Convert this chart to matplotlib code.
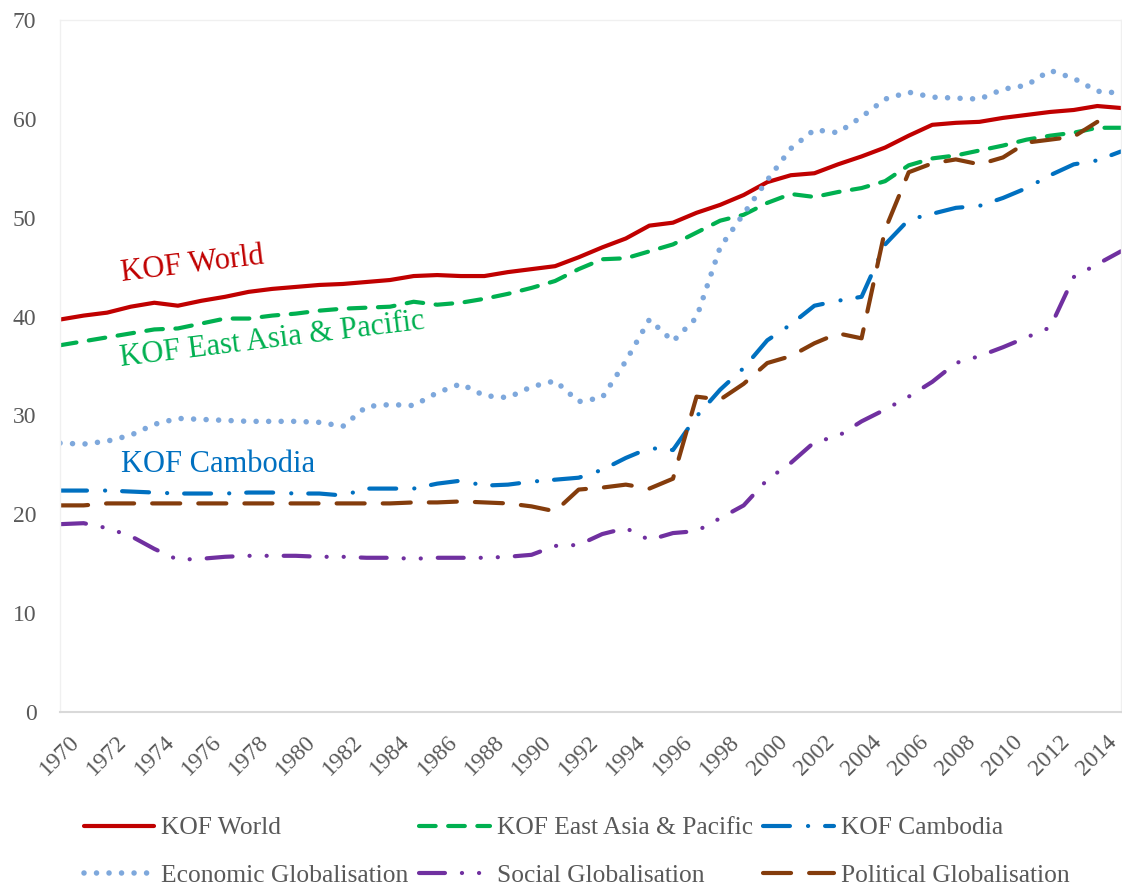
import matplotlib
matplotlib.use("Agg")
import matplotlib.pyplot as plt

# =====================================================
# KOF GLOBALISATION INDEX: WORLD, EAST ASIA, CAMBODIA
# =====================================================

# 1. Data
years = list(range(1970, 2016))

kof_world = [39.7, 40.1, 40.4, 41.0, 41.4, 41.1, 41.6, 42.0, 42.5, 42.8,
             43.0, 43.2, 43.3, 43.5, 43.7, 44.1, 44.2, 44.1, 44.1, 44.5,
             44.8, 45.1, 46.0, 47.0, 47.9, 49.2, 49.5, 50.5, 51.3, 52.3,
             53.6, 54.3, 54.5, 55.4, 56.2, 57.1, 58.3, 59.4, 59.6, 59.7,
             60.1, 60.4, 60.7, 60.9, 61.3, 61.1]

kof_east_asia = [37.1, 37.5, 37.9, 38.3, 38.7, 38.8, 39.3, 39.8, 39.8, 40.1,
                 40.3, 40.6, 40.8, 40.9, 41.0, 41.5, 41.2, 41.4, 41.8, 42.3,
                 42.9, 43.6, 44.8, 45.8, 45.9, 46.6, 47.3, 48.5, 49.7, 50.3,
                 51.5, 52.4, 52.1, 52.6, 53.0, 53.7, 55.3, 56.0, 56.3, 56.8,
                 57.3, 57.9, 58.3, 58.6, 59.1, 59.1]

kof_cambodia = [22.4, 22.4, 22.4, 22.3, 22.2, 22.1, 22.1, 22.1, 22.2, 22.2,
                22.1, 22.1, 21.9, 22.6, 22.6, 22.6, 23.1, 23.4, 22.9, 23.0,
                23.3, 23.5, 23.7, 24.5, 25.7, 26.7, 26.5, 29.9, 32.6, 34.8,
                37.6, 39.2, 41.1, 41.6, 42.0, 47.3, 49.8, 50.4, 51.0, 51.2,
                52.0, 53.0, 54.3, 55.4, 55.8, 56.7]

economic = [27.2, 27.1, 27.4, 28.0, 29.1, 29.7, 29.6, 29.5, 29.4, 29.4,
            29.4, 29.3, 28.9, 30.9, 31.1, 31.0, 32.3, 33.2, 32.0, 31.8,
            32.9, 33.5, 31.4, 31.8, 35.5, 39.7, 37.5, 39.9, 47.0, 50.4,
            53.8, 57.0, 58.9, 58.6, 60.2, 62.0, 62.7, 62.2, 62.1, 62.0,
            63.0, 63.4, 64.9, 64.1, 62.8, 62.6]

social = [19.0, 19.1, 18.6, 17.8, 16.5, 15.4, 15.5, 15.7, 15.8, 15.8,
          15.8, 15.7, 15.7, 15.6, 15.6, 15.5, 15.6, 15.6, 15.6, 15.7,
          15.9, 16.8, 16.9, 18.0, 18.6, 17.4, 18.1, 18.3, 19.6, 20.9,
          23.5, 25.2, 27.3, 27.9, 29.4, 30.6, 31.9, 33.4, 35.3, 36.0,
          36.9, 37.9, 38.9, 44.0, 45.3, 46.6]

# no visible value for 2015 in the reference
political = [20.9, 20.9, 21.1, 21.1, 21.1, 21.1, 21.1, 21.1, 21.1, 21.1,
             21.1, 21.1, 21.1, 21.1, 21.1, 21.2, 21.2, 21.3, 21.2, 21.1,
             20.8, 20.3, 22.5, 22.7, 23.0, 22.6, 23.6, 31.9, 31.6, 33.2,
             35.3, 36.0, 37.3, 38.3, 37.8, 48.8, 54.6, 55.5, 55.9, 55.4,
             56.1, 57.6, 57.9, 58.2, 59.7, float("nan")]

tick_years = list(range(1970, 2016, 2))

# 2. General style
plt.rcParams["font.family"] = ["Liberation Serif", "DejaVu Serif"]
plt.rcParams["lines.scale_dashes"] = False

text_gray = "#595959"

fig = plt.figure(figsize=(11.22, 8.86), dpi=100)
ax = fig.add_axes([0.0535, 0.1964, 0.9455, 0.781])

# 3. Drawing the six series
lw = 3.0
ax.plot(years, kof_world, color="#C00000", lw=lw, label="KOF World",
        solid_capstyle="round", solid_joinstyle="round")
ax.plot(years, kof_east_asia, color="#00B050", lw=lw,
        dashes=(12.0, 9.0), dash_capstyle="round",
        label="KOF East Asia & Pacific")
ax.plot(years, kof_cambodia, color="#0070C0", lw=lw,
        dashes=(19.4, 13.0, 0.1, 12.2), dash_capstyle="round",
        label="KOF Cambodia")
ax.plot(years, economic, color="#7EA8DC", lw=4.0,
        dashes=(0.01, 9.0), dash_capstyle="round",
        label="Economic Globalisation")
ax.plot(years, social, color="#7030A0", lw=lw,
        dashes=(18.7, 12.2, 0.1, 12.2, 0.1, 12.2), dash_capstyle="round",
        label="Social Globalisation")
ax.plot(years, political, color="#843C0C", lw=lw,
        dashes=(20.2, 13.0), dash_capstyle="round",
        label="Political Globalisation")

# 4. Axes, ticks and frame
ax.set_xlim(1970, 2015)
ax.set_ylim(0, 70)
ax.set_yticks(range(0, 71, 10))
ax.set_xticks(tick_years)
ax.set_xticklabels([str(y) for y in tick_years], rotation=45, ha="center")
ax.tick_params(axis="both", length=0, labelsize=17, labelcolor=text_gray)
ax.tick_params(axis="x", pad=14)
ax.tick_params(axis="y", pad=17)

for side in ["top", "left", "right"]:
    ax.spines[side].set_color("#F0F0F0")
    ax.spines[side].set_linewidth(1.0)
ax.spines["bottom"].set_color("#D9D9D9")
ax.spines["bottom"].set_linewidth(1.5)

# 5. Series labels written inside the plot
ax.text(1975.6, 45.2, "KOF World", color="#C00000", fontsize=22,
        rotation=7, ha="center", va="center")
ax.text(1979.0, 37.6, "KOF East Asia & Pacific", color="#00B050", fontsize=22,
        rotation=7, ha="center", va="center")
ax.text(1976.7, 25.0, "KOF Cambodia", color="#0070C0", fontsize=22,
        ha="center", va="center")

# 6. Legend (column-first order gives the reference rows)
handles, labels = ax.get_legend_handles_labels()
order = [0, 3, 1, 4, 2, 5]
fig.legend([handles[i] for i in order], [labels[i] for i in order],
           ncol=3, loc="center", bbox_to_anchor=(0.514, 0.0385),
           frameon=False, fontsize=18.4, labelcolor=text_gray,
           handlelength=2.75, handletextpad=0.27, columnspacing=0.42,
           labelspacing=0.97)

fig.savefig("out.png", dpi=100)
